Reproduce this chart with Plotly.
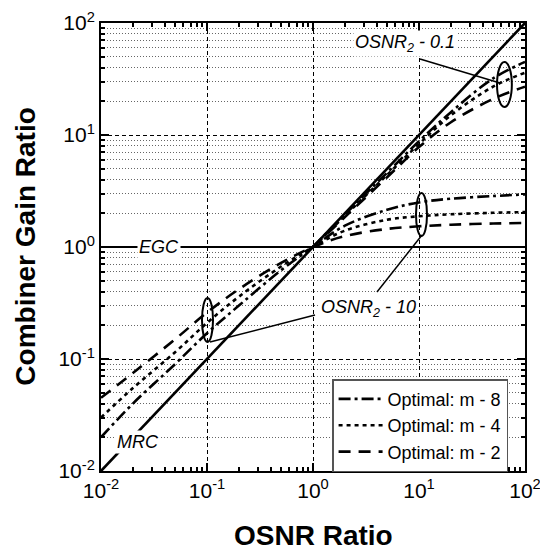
import plotly.graph_objects as go

# ---------------- data ----------------
mrc_x = [0.01, 100]
mrc_y = [0.01, 100]
egc_x = [0.01, 100]
egc_y = [1, 1]

# OSNR2 = 10 group
x_hi = [0.01, 0.02, 0.05, 0.1, 0.2, 0.5, 1, 2, 5, 10, 20, 50, 100]
m2_hi = [0.045, 0.075, 0.15, 0.26, 0.42, 0.72, 1, 1.25, 1.45, 1.53, 1.58, 1.62, 1.64]
m4_hi = [0.03, 0.055, 0.115, 0.21, 0.36, 0.67, 1, 1.4, 1.75, 1.88, 1.96, 2.02, 2.05]
m8_hi = [0.02, 0.04, 0.09, 0.17, 0.30, 0.62, 1, 1.55, 2.15, 2.5, 2.7, 2.85, 2.95]

# OSNR2 = 0.1 group
x_lo = [1, 2, 5, 10, 20, 50, 100]
m8_lo = [1, 1.95, 4.6, 8.8, 16, 32, 45]
m4_lo = [1, 1.9, 4.4, 8.3, 15, 27, 36]
m2_lo = [1, 1.85, 4.2, 7.8, 13, 21, 27]

tick_vals = [0.01, 0.1, 1, 10, 100]
tick_text = ["10<sup>-2</sup>", "10<sup>-1</sup>", "10<sup>0</sup>", "10<sup>1</sup>", "10<sup>2</sup>"]

# ---------------- styles ----------------
FONT = "Liberation Sans, Arial, Helvetica, sans-serif"
DASH8 = "12px,4px,3px,4px"
DASH4 = "4px,4px"
DASH2 = "12px,8px"
LW = 2.6

fig = go.Figure()

fig.add_trace(go.Scatter(x=egc_x, y=egc_y, mode="lines", line=dict(color="black", width=2.2),
                         showlegend=False, hoverinfo="skip"))
fig.add_trace(go.Scatter(x=mrc_x, y=mrc_y, mode="lines", line=dict(color="black", width=2.6),
                         showlegend=False, hoverinfo="skip"))

series = [
    ("Optimal: m - 8", DASH8, m8_hi, m8_lo),
    ("Optimal: m - 4", DASH4, m4_hi, m4_lo),
    ("Optimal: m - 2", DASH2, m2_hi, m2_lo),
]
for name, dash, yh, yl in series:
    fig.add_trace(go.Scatter(x=x_hi, y=yh, mode="lines", name=name, legendgroup=name,
                             line=dict(color="black", width=LW, dash=dash, shape="spline")))
    fig.add_trace(go.Scatter(x=x_lo, y=yl, mode="lines", name=name, legendgroup=name, showlegend=False,
                             line=dict(color="black", width=LW, dash=dash, shape="spline")))

minor_vals = [m * 10 ** e for e in range(-2, 2) for m in range(2, 10)]

common_axis = dict(
    type="log", automargin=False,
    tickmode="array", tickvals=tick_vals, ticktext=tick_text,
    ticks="inside", ticklen=8, tickwidth=1.5, tickcolor="black",
    showline=True, linecolor="black", linewidth=2, mirror="allticks",
    tickfont=dict(family=FONT, size=21, color="black"),
    showgrid=True, gridcolor="black", gridwidth=1, griddash="4px,3px",
    zeroline=False,
)

fig.update_xaxes(range=[-2, 2], **common_axis,
                 minor=dict(tickmode="array", tickvals=minor_vals, ticks="inside", ticklen=4,
                            tickwidth=1.5, tickcolor="black", showgrid=False))
fig.update_yaxes(range=[-2, 2], **common_axis,
                 minor=dict(tickmode="array", tickvals=minor_vals, ticks="inside", ticklen=4,
                            tickwidth=1.5, tickcolor="black", showgrid=True,
                            gridcolor="#666666", gridwidth=1, griddash="1px,2px"))

# ---------------- annotation shapes (paper coords) ----------------
shapes = [
    dict(type="circle", xref="paper", yref="paper", x0=0.2382, x1=0.2642, y0=0.2879, y1=0.3862,
         line=dict(color="black", width=2)),
    dict(type="circle", xref="paper", yref="paper", x0=0.7429, x1=0.7689, y0=0.5246, y1=0.6205,
         line=dict(color="black", width=2)),
    dict(type="circle", xref="paper", yref="paper", x0=0.934, x1=0.969, y0=0.8125, y1=0.9129,
         line=dict(color="black", width=2)),
    dict(type="line", xref="paper", yref="paper", x0=0.7524, y0=0.9196, x1=0.9410, y1=0.8661,
         line=dict(color="black", width=1.5)),
    dict(type="line", xref="paper", yref="paper", x0=0.2571, y0=0.2879, x1=0.5047, y1=0.3482,
         line=dict(color="black", width=1.5)),
    dict(type="line", xref="paper", yref="paper", x0=0.6509, y0=0.3996, x1=0.7571, y1=0.5268,
         line=dict(color="black", width=1.5)),
]

lab_font = dict(family=FONT, size=18, color="black")
annotations = [
    dict(text="<i>OSNR<sub>2</sub> - 0.1</i>", x=0.868, y=1.82, xref="x", yref="y",
         showarrow=False, bgcolor="white", font=lab_font, borderpad=1),
    dict(text="<i>OSNR<sub>2</sub> - 10</i>", x=0.528, y=-0.55, xref="x", yref="y",
         showarrow=False, bgcolor="white", font=lab_font, borderpad=1),
    dict(text="<i>EGC</i>", x=-1.453, y=0, xref="x", yref="y",
         showarrow=False, bgcolor="white", font=lab_font, borderpad=1),
    dict(text="<i>MRC</i>", x=-1.651, y=-1.741, xref="x", yref="y",
         showarrow=False, bgcolor="white", font=lab_font, borderpad=1),
    # axis titles
    dict(text="<b>OSNR Ratio</b>", x=0.5, y=-0.145, xref="paper", yref="paper", yanchor="middle",
         showarrow=False, font=dict(family=FONT, size=28, color="black")),
    dict(text="<b>Combiner Gain Ratio</b>", x=-0.18, y=0.5, xref="paper", yref="paper",
         xanchor="center", yanchor="middle", textangle=-90,
         showarrow=False, font=dict(family=FONT, size=28, color="black")),
]

# page body has an 8px margin, so the figure is 8px smaller and left/top offsets are reduced
fig.update_layout(
    width=540, height=542,
    margin=dict(l=93, r=23, t=15, b=79, autoexpand=False),
    paper_bgcolor="white", plot_bgcolor="white",
    shapes=shapes, annotations=annotations,
    showlegend=True,
    legend=dict(x=0.545, y=0.205, xanchor="left", yanchor="top",
                bgcolor="white", bordercolor="#555555", borderwidth=1.5,
                font=dict(family=FONT, size=18, color="black"),
                tracegroupgap=0, itemwidth=44),
    font=dict(family=FONT, color="black"),
)

fig.write_html("out.html")
